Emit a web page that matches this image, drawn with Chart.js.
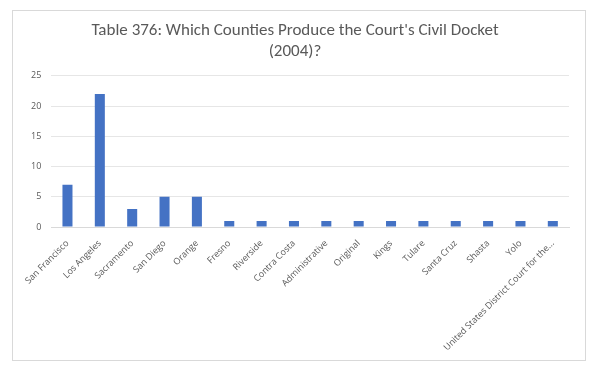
<!DOCTYPE html>
<html>
<head>
<meta charset="utf-8">
<script src="https://cdn.jsdelivr.net/npm/chart.js@4.4.0/dist/chart.umd.min.js"></script>
<style>
    body { margin: 0; background: #fff; }
    #box {
        position: absolute;
        left: 12px; top: 10px;
        width: 572px; height: 349px;
        border: 1px solid #d9d9d9;
        background: #fff;
    }
</style>
</head>
<body>
<div id="box"><canvas id="countyChart"></canvas></div>
<script>
const counties = [
    'San Francisco', 'Los Angeles', 'Sacramento', 'San Diego', 'Orange',
    'Fresno', 'Riverside', 'Contra Costa', 'Administrative', 'Original',
    'Kings', 'Tulare', 'Santa Cruz', 'Shasta', 'Yolo',
    'United States District Court for the...'
];
const caseCounts = [7, 22, 3, 5, 5, 1, 1, 1, 1, 1, 1, 1, 1, 1, 1, 1];
const yTicks = [0, 5, 10, 15, 20, 25];

document.addEventListener('DOMContentLoaded', function() {
    const ctx = document.getElementById('countyChart').getContext('2d');
    new Chart(ctx, {
        type: 'bar',
        data: {
            labels: counties,
            datasets: [{
                label: 'Cases',
                data: caseCounts,
                backgroundColor: '#4472c4',
                categoryPercentage: 1,
                barPercentage: 0.31
            }]
        },
        options: {
            responsive: true,
            maintainAspectRatio: false,
            animation: false,
            layout: { padding: { left: 8, right: 16, top: 0, bottom: 4 } },
            plugins: {
                legend: { display: false },
                tooltip: { enabled: false },
                title: {
                    display: true,
                    text: ["Table 376: Which Counties Produce the Court's Civil Docket", '(2004)?'],
                    color: '#595959',
                    font: { family: 'Calibri, Carlito, "Open Sans", sans-serif', size: 17, weight: 'normal' },
                    padding: { top: 10, bottom: 14 },
                    lineHeight: 1.2
                }
            },
            scales: {
                x: {
                    grid: { display: false },
                    border: { color: '#d9d9d9' },
                    ticks: {
                        autoSkip: false,
                        maxRotation: 45,
                        minRotation: 45,
                        color: '#595959',
                        font: { family: '"Open Sans", sans-serif', size: 9 }
                    }
                },
                y: {
                    min: 0,
                    max: 25,
                    afterBuildTicks: axis => { axis.ticks = yTicks.map(v => ({ value: v })); },
                    grid: { color: '#e6e6e6', drawTicks: false },
                    border: { display: false },
                    ticks: {
                        padding: 10,
                        color: '#595959',
                        font: { family: '"Open Sans", sans-serif', size: 9 }
                    }
                }
            }
        }
    });
});
</script>
</body>
</html>
